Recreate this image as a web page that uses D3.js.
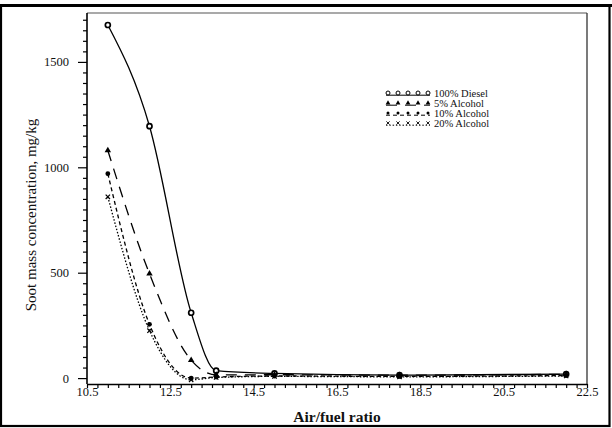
<!DOCTYPE html>
<html>
<head>
<meta charset="utf-8">
<script src="https://cdn.jsdelivr.net/npm/d3@7"></script>
<style>
  html, body { margin: 0; padding: 0; background: #fff; }
  svg { display: block; }
  svg text { font-family: "Liberation Serif", "DejaVu Serif", serif; fill: #111; }
</style>
</head>
<body>
<svg id="chart" width="612" height="428"></svg>
<script>
// Air/fuel ratio sample points
const airFuel = [11, 12, 13, 13.6, 15, 18, 22];

// Soot mass concentration (mg/kg) per fuel blend
const diesel100 = [1675, 1195, 310, 35, 22, 14, 19];
const alcohol5  = [1080, 495, 85, 15, 16, 14, 18];
const alcohol10 = [970, 255, 0, 5, 10, 8, 12];
const alcohol20 = [860, 225, -8, 3, 8, 6, 10];

const seriesNames = ["100% Diesel", "5% Alcohol", "10% Alcohol", "20% Alcohol"];

const xTickLabels = [10.5, 12.5, 14.5, 16.5, 18.5, 20.5, 22.5];
const yTickLabels = [0, 500, 1000, 1500];

const FONT = "Liberation Serif, DejaVu Serif, serif";
const svg = d3.select("#chart");
const W = 612, H = 428;

// outer frame
svg.append("rect").attr("x", 1).attr("y", 5.5).attr("width", 608.5).attr("height", 420.5)
  .attr("fill", "none").attr("stroke", "#000").attr("stroke-width", 2.2);
svg.append("line").attr("x1", 0).attr("x2", W).attr("y1", 5.5).attr("y2", 5.5)
  .attr("stroke", "#000").attr("stroke-width", 3);

const plot = { left: 87, right: 587, top: 13, bottom: 384 };

const x = d3.scaleLinear().domain([10.5, 22.5]).range([plot.left, plot.right]);
const y = d3.scaleLinear().domain([-28, 1732]).range([plot.bottom, plot.top]);

// plot box
svg.append("line").attr("x1", plot.left).attr("x2", plot.right).attr("y1", plot.top).attr("y2", plot.top)
  .attr("stroke", "#555").attr("stroke-width", 1.2);
svg.append("line").attr("x1", plot.right).attr("x2", plot.right).attr("y1", plot.top).attr("y2", plot.bottom)
  .attr("stroke", "#333").attr("stroke-width", 1.3);

// x axis: minor ticks every 0.25, labels every 2
const xMinor = d3.range(10.5, 22.5001, 0.25);
const xAxis = d3.axisBottom(x).tickValues(xMinor).tickSize(4).tickSizeOuter(0)
  .tickFormat(d => xTickLabels.some(v => Math.abs(v - d) < 1e-6) ? d3.format(".1f")(d) : "");
const gx = svg.append("g").attr("transform", `translate(0,${plot.bottom})`).call(xAxis)
  .attr("font-family", FONT);
gx.select(".domain").attr("stroke", "#000").attr("stroke-width", 1.6);
gx.selectAll(".tick line").attr("stroke", "#000").attr("stroke-width", 1.2);
gx.selectAll(".tick text").attr("font-size", 12.5).attr("dy", "0.55em").attr("y", 5);

// y axis: minor ticks every 50, labels every 500
const yMinor = d3.range(0, 1701, 50);
const yAxis = d3.axisLeft(y).tickValues(yMinor).tickSize(4).tickSizeOuter(0)
  .tickFormat(d => yTickLabels.includes(d) ? d : "");
const gy = svg.append("g").attr("transform", `translate(${plot.left},0)`).call(yAxis)
  .attr("font-family", FONT);
gy.select(".domain").attr("stroke", "#000").attr("stroke-width", 1.6)
  .attr("d", `M0,${plot.top}V${plot.bottom}`);
gy.selectAll(".tick line").attr("stroke", "#000").attr("stroke-width", 1.2)
  .attr("x2", d => yTickLabels.includes(d) ? -9 : -4);
gy.selectAll(".tick text").attr("font-size", 12.5).attr("x", -18);

// axis titles
svg.append("text").attr("x", (plot.left + plot.right) / 2).attr("y", 422)
  .attr("text-anchor", "middle").attr("font-size", 15.5)
  .attr("font-family", FONT).attr("font-weight", "bold")
  .text("Air/fuel ratio");
svg.append("text").attr("transform", "translate(36,215) rotate(-90)")
  .attr("text-anchor", "middle").attr("font-size", 15).attr("font-family", FONT)
  .text("Soot mass concentration, mg/kg");

// series
const series = [
  { name: seriesNames[0], values: diesel100, dash: null, marker: "circle" },
  { name: seriesNames[1], values: alcohol5, dash: "11,8", marker: "triangle" },
  { name: seriesNames[2], values: alcohol10, dash: "4,3", marker: "dot" },
  { name: seriesNames[3], values: alcohol20, dash: "1.5,1.8", marker: "tick" }
];

const line = d3.line().x(d => x(d[0])).y(d => y(d[1])).curve(d3.curveMonotoneX);

function drawMarker(g, kind, cx, cy) {
  if (kind === "circle") {
    g.append("circle").attr("cx", cx).attr("cy", cy).attr("r", 2.5)
      .attr("fill", "#fff").attr("stroke", "#000").attr("stroke-width", 1.7);
  } else if (kind === "triangle") {
    g.append("path").attr("transform", `translate(${cx},${cy})`)
      .attr("d", d3.symbol(d3.symbolTriangle, 18)()).attr("fill", "#000");
  } else if (kind === "dot") {
    g.append("circle").attr("cx", cx).attr("cy", cy).attr("r", 2.4).attr("fill", "#000");
  } else {
    g.append("path").attr("transform", `translate(${cx},${cy})`)
      .attr("d", d3.symbol(d3.symbolTimes, 14)()).attr("stroke", "#000")
      .attr("stroke-width", 1.2).attr("fill", "none");
  }
}

series.forEach(s => {
  const pts = airFuel.map((a, i) => [a, s.values[i]]);
  const g = svg.append("g");
  g.append("path").attr("d", line(pts)).attr("fill", "none")
    .attr("stroke", "#000").attr("stroke-width", 1.3)
    .attr("stroke-dasharray", s.dash);
  pts.forEach(p => drawMarker(g, s.marker, x(p[0]), y(p[1])));
});

// legend
const legend = svg.append("g");
series.forEach((s, i) => {
  const ly = 93 + i * 10;
  const gl = legend.append("g");
  gl.append("line").attr("x1", 386).attr("x2", 430).attr("y1", ly + 2.2).attr("y2", ly + 2.2)
    .attr("stroke", "#000").attr("stroke-width", 1).attr("stroke-dasharray", s.dash);
  d3.range(5).forEach(k => {
    const cx = 388 + k * 10;
    if (s.marker === "circle") {
      gl.append("circle").attr("cx", cx).attr("cy", ly).attr("r", 2)
        .attr("fill", "#fff").attr("stroke", "#000").attr("stroke-width", 1);
    } else if (s.marker === "triangle") {
      gl.append("path").attr("transform", `translate(${cx},${ly})`)
        .attr("d", d3.symbol(d3.symbolTriangle, 10)()).attr("fill", "#000");
    } else if (s.marker === "dot") {
      gl.append("circle").attr("cx", cx).attr("cy", ly).attr("r", 1.5).attr("fill", "#000");
    } else {
      gl.append("path").attr("transform", `translate(${cx},${ly})`)
        .attr("d", d3.symbol(d3.symbolTimes, 8)()).attr("stroke", "#000")
        .attr("stroke-width", 0.9).attr("fill", "none");
    }
  });
  gl.append("text").attr("x", 434).attr("y", ly + 3.5).attr("font-size", 10.5)
    .attr("font-family", FONT).text(s.name);
});
</script>
</body>
</html>
